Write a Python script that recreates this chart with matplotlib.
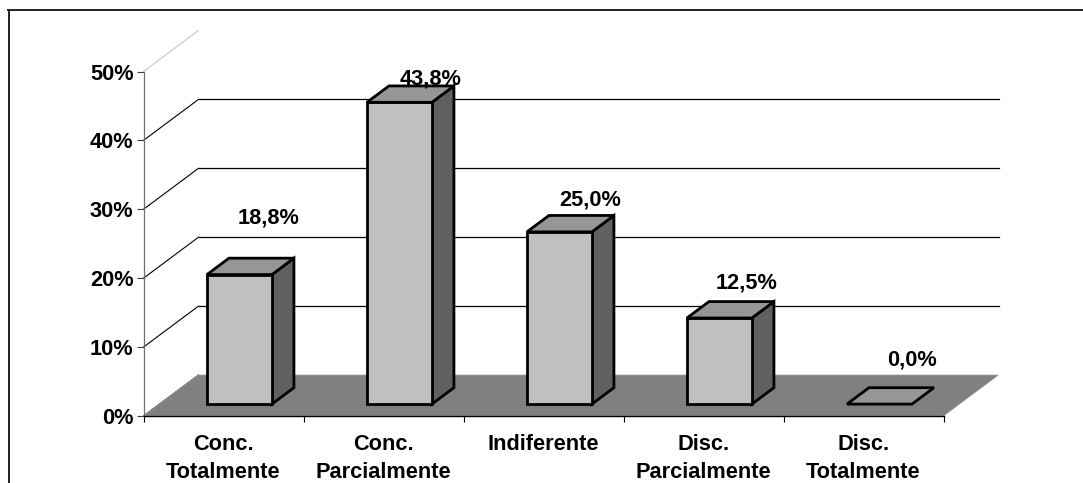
import matplotlib
matplotlib.use("Agg")
import matplotlib.pyplot as plt
from matplotlib.lines import Line2D
from matplotlib.patches import Polygon

plt.rcParams['font.family'] = ['Liberation Sans', 'DejaVu Sans']
plt.rcParams['font.weight'] = 'bold'

categories = ["Conc.\nTotalmente", "Conc.\nParcialmente", "Indiferente",
              "Disc.\nParcialmente", "Disc.\nTotalmente"]
values = [18.8, 43.8, 25.0, 12.5, 0.0]
value_labels = ["18,8%", "43,8%", "25,0%", "12,5%", "0,0%"]
y_ticks = [0, 10, 20, 30, 40, 50]

W, H = 1083, 483
FONT = 15.7

# pixel geometry of the plot box
X0, X1 = 143.5, 943.5
Y0, Y50 = 416, 71.5
px_x = (X1 - X0) / 5      # px per category
px_y = (Y0 - Y50) / 50    # px per percent

# 3d look: full depth as an offset in data units
DX = 55 / px_x
DY = 41 / px_y

# bar placement inside a category, as fractions (before the depth shift)
BAR_L, BAR_R = 0.297, 0.703
D_FRONT, D_BACK = 0.29, 0.69

# label nudges in px from the bar's top front centre
label_dx = [29.5, 31, 31, 27, 33]
label_dy = [57, 23, 32, 35, 44]


def depth(x, y, d):
    return (x + DX * d, y + DY * d)


fig = plt.figure(figsize=(W / 100, H / 100), dpi=100)
ax = fig.add_axes([X0 / W, 1 - Y0 / H, (X1 - X0) / W, (Y0 - Y50) / H])
ax.set_xlim(0, 5)
ax.set_ylim(0, 50)
ax.patch.set_alpha(0)

for s in ('top', 'right'):
    ax.spines[s].set_visible(False)
ax.spines['left'].set_color('#707070')
ax.spines['left'].set_linewidth(0.9)
ax.spines['bottom'].set_color('black')
ax.spines['bottom'].set_linewidth(1.0)
ax.spines['bottom'].set_zorder(6)

ax.set_yticks(y_ticks)
ax.set_yticklabels([f"{t}%" for t in y_ticks], fontsize=FONT, fontweight='bold', color='black')
ax.tick_params(axis='y', length=5, width=0.8, color='#404040', pad=2.2)

ax.set_xticks(range(6))
ax.set_xticklabels([])
ax.tick_params(axis='x', which='major', length=4.5, width=0.8, color='black')
ax.set_xticks([i + 0.5 for i in range(5)], minor=True)
ax.set_xticklabels(categories, minor=True, fontsize=FONT, fontweight='bold', linespacing=1.45)
ax.tick_params(axis='x', which='minor', length=0, pad=12.7)
for lab in ax.get_xticklabels(minor=True):
    lab.set_verticalalignment('top')

# back wall grid and its diagonals
for t in y_ticks:
    colour = 'black' if t < 50 else '#c8c8c8'
    bx, by = depth(0, t, 1)
    ax.plot([0, bx], [t, by], color=colour, lw=0.8, clip_on=False, zorder=1)
    if 0 < t < 50:
        ax.plot([bx, 5 + DX], [by, by], color='black', lw=0.9, clip_on=False, zorder=1)

# floor
floor = [(0, 0), (5, 0), depth(5, 0, 1), depth(0, 0, 1)]
ax.add_patch(Polygon(floor, closed=True, facecolor='#808080', edgecolor='#a0a0a0',
                     lw=0.5, clip_on=False, zorder=2))

# bars
for i, v in enumerate(values):
    xl = i + BAR_L
    xr = i + BAR_R
    top = [depth(xl, v, D_FRONT), depth(xr, v, D_FRONT), depth(xr, v, D_BACK), depth(xl, v, D_BACK)]
    kw = dict(closed=True, edgecolor='black', lw=2.0, joinstyle='miter', clip_on=False, zorder=3 + i * 0.01)
    if v > 0:
        front = [depth(xl, 0, D_FRONT), depth(xr, 0, D_FRONT), depth(xr, v, D_FRONT), depth(xl, v, D_FRONT)]
        side = [depth(xr, 0, D_FRONT), depth(xr, 0, D_BACK), depth(xr, v, D_BACK), depth(xr, v, D_FRONT)]
        ax.add_patch(Polygon(side, facecolor='#606060', **kw))
        ax.add_patch(Polygon(front, facecolor='#c0c0c0', **kw))
    ax.add_patch(Polygon(top, facecolor='#969696', **kw))

    fx, fy = depth((xl + xr) / 2, v, D_FRONT)
    ax.annotate(value_labels[i], (fx, fy), xytext=(label_dx[i] * 0.72, label_dy[i] * 0.72),
                textcoords='offset points', ha='center', va='center',
                fontsize=FONT, fontweight='bold', color='black', zorder=5, annotation_clip=False)

# chart frame, cropped by the picture on the right and at the bottom
frame_col = '#202020'
fig.add_artist(Line2D([8.5 / W, 8.5 / W], [0, 1 - 10 / H], color=frame_col, lw=1.4))
fig.add_artist(Line2D([8 / W, 1], [1 - 10 / H, 1 - 10 / H], color=frame_col, lw=1.4))

fig.savefig("out.png", dpi=100)
